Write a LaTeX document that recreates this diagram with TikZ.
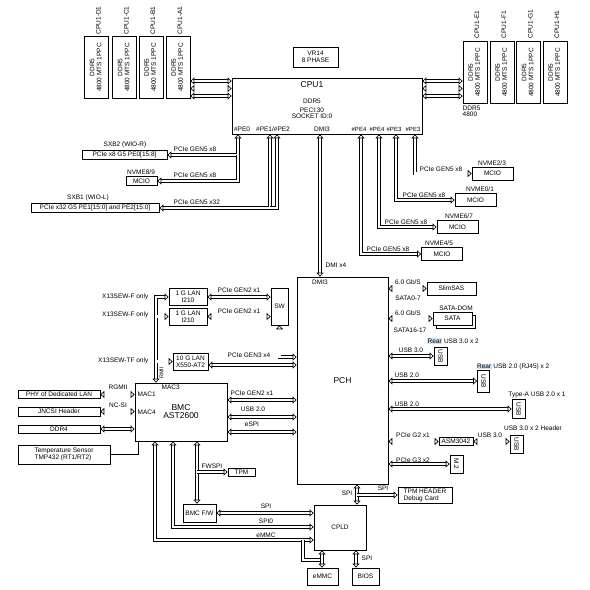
\documentclass[tikz,border=0pt]{standalone}
\usepackage{fontspec}
\usepackage{graphicx}
\setmainfont{Liberation Sans}
\usetikzlibrary{arrows.meta, positioning}
\definecolor{rearbg}{RGB}{204,228,247}
\newcommand{\vtext}[1]{\rotatebox{90}{\begin{tabular}{@{}c@{}}#1\end{tabular}}}
\newcommand{\rear}{{\setlength{\fboxsep}{0.4pt}\colorbox{rearbg}{Rear}}}

\begin{document}
\begin{tikzpicture}[x=1pt, y=-1pt,
    box/.style={rectangle, draw, line width=0.7pt, inner sep=0.5pt, align=center, font=\fontsize{6.5}{7}\selectfont},
    dimm/.style={box, minimum width=24pt, minimum height=62pt},
    mcio/.style={box, minimum width=41pt, minimum height=13pt},
    usbbox/.style={box, minimum width=13pt, minimum height=18pt},
    lbl/.style={inner sep=0.5pt, align=center, font=\fontsize{6.5}{7}\selectfont},
    small/.style={inner sep=0.5pt, font=\fontsize{6}{6.5}\selectfont},
    big/.style={inner sep=0.5pt, align=center, font=\fontsize{8.5}{8}\selectfont},
    bus/.style={draw=black, line width=0.65pt, double=white, double distance=2.3pt},
    link/.style={bus, {Triangle[open, length=4pt, width=7pt]}-{Triangle[open, length=4pt, width=7pt]}},
    linkto/.style={bus, -{Triangle[open, length=4pt, width=7pt]}},
    linkfrom/.style={bus, {Triangle[open, length=4pt, width=7pt]}-}
  ]
\useasboundingbox (0,0) rectangle (590,590);

% CPU
\node[box, minimum width=190pt, minimum height=56pt] (cpu) at (327,106) {};
\node[big] (cputitle) at (312,85) {CPU1};
\node[lbl] (cpuddr) at (312,101) {DDR5};
\node[lbl, font=\fontsize{6.5}{6}\selectfont] (cpuid) at (312,113.5) {PECI:30\\SOCKET ID:0};
\node[box, minimum width=45pt, minimum height=20pt] (vr) at (315.5,57) {VR14\\8 PHASE};
\node[lbl] (pe0) at (242,129) {\#PE0};
\node[lbl] (pe12) at (273,129) {\#PE1/\#PE2};
\node[lbl] (dmi) at (322,129) {DMI3};
\node[small] (pe4a) at (359,129) {\#PE4};
\node[small] (pe4b) at (377,129) {\#PE4};
\node[small] (pe3a) at (394,129) {\#PE3};
\node[small] (pe3b) at (413,129) {\#PE3};

% Memory
\node[dimm] (d1) at (96.5,67.5) {\vtext{DDR5\\4800 MTS 1PPC}};
\node[dimm] (c1) at (124.5,67.5) {\vtext{DDR5\\4800 MTS 1PPC}};
\node[dimm] (b1) at (151,67.5) {\vtext{DDR5\\4800 MTS 1PPC}};
\node[dimm] (a1) at (178,67.5) {\vtext{DDR5\\4800 MTS 1PPC}};
\node[lbl, rotate=90, anchor=west] (ld1) at (98.5,35) {CPU1-D1};
\node[lbl, rotate=90, anchor=west] (lc1) at (126.5,35) {CPU1-C1};
\node[lbl, rotate=90, anchor=west] (lb1) at (153,35) {CPU1-B1};
\node[lbl, rotate=90, anchor=west] (la1) at (180,35) {CPU1-A1};

\node[dimm] (e1) at (475,72.5) {\vtext{DDR5\\4800 MTS 1PPC}};
\node[dimm] (f1) at (502,72.5) {\vtext{DDR5\\4800 MTS 1PPC}};
\node[dimm] (g1) at (528.5,72.5) {\vtext{DDR5\\4800 MTS 1PPC}};
\node[dimm] (h1) at (555,72.5) {\vtext{DDR5\\4800 MTS 1PPC}};
\node[lbl, rotate=90, anchor=west] (le1) at (477,39) {CPU1-E1};
\node[lbl, rotate=90, anchor=west] (lf1) at (504,39) {CPU1-F1};
\node[lbl, rotate=90, anchor=west] (lg1) at (530.5,39) {CPU1-G1};
\node[lbl, rotate=90, anchor=west] (lh1) at (557,39) {CPU1-H1};
\node[lbl, anchor=north west, align=left, font=\fontsize{6.5}{6}\selectfont] (ddrnote) at (462,105) {DDR5\\4800};

\draw[link] (a1.east |- 0,81) -- (cpu.west |- 0,81);
\draw[link] (a1.east |- 0,88.5) -- (cpu.west |- 0,88.5);
\draw[link] (a1.east |- 0,96) -- (cpu.west |- 0,96);
\draw[link] (cpu.east |- 0,81) -- (e1.west |- 0,81);
\draw[link] (cpu.east |- 0,88.5) -- (e1.west |- 0,88.5);
\draw[link] (cpu.east |- 0,96) -- (e1.west |- 0,96);

% PCIe left
\node[lbl] (lsxb2) at (125,145) {SXB2 (WIO-R)};
\node[box, minimum width=85pt, minimum height=9pt] (sxb2) at (124.5,155) {PCIe x8 G5 PE0[15:8]};
\node[lbl] (lnv89) at (141,172) {NVME8/9};
\node[box, minimum width=31pt, minimum height=9pt] (mcio89) at (141.5,181) {MCIO};
\node[lbl] (lsxb1) at (88,198) {SXB1 (WIO-L)};
\node[box, minimum width=128pt, minimum height=9pt] (sxb1) at (95,208) {PCIe x32 G5 PE1[15:0] and PE2[15:0]};
\node[lbl, anchor=south west] (g5a) at (173,152) {PCIe GEN5 x8};
\node[lbl, anchor=south west] (g5b) at (173,178.5) {PCIe GEN5 x8};
\node[lbl, anchor=south west] (g5c) at (173,205.5) {PCIe GEN5 x32};

\coordinate (pe0port) at (cpu.south -| 238,0);
\coordinate (pe0bend) at (sxb2.east -| 238,0);
\coordinate (pe1port) at (cpu.south -| 270,0);
\coordinate (pe1bend) at (sxb1.east -| 270,0);
\coordinate (pe2port) at (cpu.south -| 277,0);
\coordinate (pe2bend) at (sxb1.east -| 277,0);
\draw[link] (pe0port) -- (pe0bend) -- (sxb2.east);
\draw[linkto] (pe0bend) -- (pe0bend |- mcio89.east) -- (mcio89.east);
\draw[link] (pe1port) -- (pe1bend) -- (sxb1.east);
\draw[linkfrom] (pe2port) -- (pe2bend) -- (pe1bend);

% PCIe right
\node[mcio] (mcio23) at (492.5,173.5) {MCIO};
\node[mcio] (mcio01) at (475.5,200) {MCIO};
\node[mcio] (mcio67) at (457.5,227) {MCIO};
\node[mcio] (mcio45) at (442,254) {MCIO};
\node[lbl] (lnv23) at (492,163) {NVME2/3};
\node[lbl] (lnv01) at (480,189.5) {NVME0/1};
\node[lbl] (lnv67) at (459,216.5) {NVME6/7};
\node[lbl] (lnv45) at (439,243.5) {NVME4/5};
\node[lbl, anchor=south west] (g5d) at (419,172) {PCIe GEN5 x8};
\node[lbl, anchor=south west] (g5e) at (402,198.5) {PCIe GEN5 x8};
\node[lbl, anchor=south west] (g5f) at (384,225.5) {PCIe GEN5 x8};
\node[lbl, anchor=south west] (g5g) at (366,252.5) {PCIe GEN5 x8};

\draw[link] (415,0 |- cpu.south) |- (mcio23.west);
\draw[link] (396,0 |- cpu.south) |- (mcio01.west);
\draw[link] (379,0 |- cpu.south) |- (mcio67.west);
\draw[link] (361,0 |- cpu.south) |- (mcio45.west);

% PCH
\node[box, minimum width=91pt, minimum height=207pt, font=\fontsize{8.5}{9}\selectfont] (pch) at (342.5,380.5) {PCH};
\node[lbl] (pchdmi) at (320,282) {DMI3};
\node[lbl, anchor=west] (ldmi) at (325,265) {DMI x4};
\draw[link] (320,0 |- cpu.south) -- (320,0 |- pch.north);

% LAN
\node[box, minimum width=38pt, minimum height=17pt] (lan1) at (188,297) {1 G LAN\\I210};
\node[box, minimum width=38pt, minimum height=17pt] (lan2) at (188,316.5) {1 G LAN\\I210};
\node[box, minimum width=35pt, minimum height=17pt] (lan10) at (190.5,361.5) {10 G LAN\\X550-AT2};
\node[box, minimum width=17pt, minimum height=37pt] (sw) at (279.5,306.5) {SW};
\node[lbl, anchor=east] (only1) at (149,297) {X13SEW-F only};
\node[lbl, anchor=east] (only2) at (149,315) {X13SEW-F only};
\node[lbl, anchor=east] (only3) at (149,361) {X13SEW-TF only};
\node[lbl] (g2a) at (239,290.5) {PCIe GEN2 x1};
\node[lbl] (g2b) at (239,311) {PCIe GEN2 x1};
\node[lbl] (g3a) at (249,355) {PCIe GEN3 x4};

\draw[link] (lan1.east) -- (lan1.east -| sw.west);
\draw[link] (lan2.east) -- (lan2.east -| sw.west);
\draw[link] (sw.south) |- (pch.west |- 0,357);
\draw[link] (lan10.east |- 0,365) -- (pch.west |- 0,365);

% BMC
\node[box, minimum width=92pt, minimum height=58pt, font=\fontsize{8.5}{8}\selectfont] (bmc) at (181,412) {BMC\\AST2600};
\node[lbl, anchor=west] (mac1) at (137,394) {MAC1};
\node[lbl, anchor=west] (mac3) at (161,387) {MAC3};
\node[lbl, anchor=west] (mac4) at (137,412) {MAC4};
\node[lbl, rotate=90, font=\fontsize{5.5}{6}\selectfont] (rmii) at (161.5,373) {RMII};

\coordinate (rmiiport) at (bmc.north -| 156,0);
\coordinate (rmiibend) at (lan1.west -| 156,0);
\draw[link] (rmiiport) -- (rmiibend) -- (lan1.west);
\draw[linkto] (rmiibend |- lan2.west) -- (lan2.west);
\draw[linkto] (rmiibend |- lan10.west) -- (lan10.west);

\node[box, minimum width=82pt, minimum height=8pt] (phy) at (59,394.5) {PHY of Dedicated LAN};
\node[box, minimum width=82pt, minimum height=9pt] (jncsi) at (59,411.5) {JNCSI Header};
\node[box, minimum width=82pt, minimum height=8pt] (ddr4) at (59,429) {DDR4};
\node[box, minimum width=92pt, minimum height=19pt, align=left] (temp) at (64,454.5) {Temperature Sensor\\TMP432 (RT1/RT2)};
\node[lbl] (rgmii) at (118,387.5) {RGMII};
\node[lbl] (ncsi) at (118,405) {NC-SI};

\draw[link] (phy.east) -- (phy.east -| bmc.west);
\draw[link] (jncsi.east) -- (jncsi.east -| bmc.west);
\draw[link] (ddr4.east) -- (ddr4.east -| bmc.west);
\draw[line width=0.7pt] (temp.east) -| (138,0 |- bmc.south);

\node[lbl] (bg2) at (252,393) {PCIe GEN2 x1};
\node[lbl] (busb) at (253,409) {USB 2.0};
\node[lbl] (bespi) at (252,424.5) {eSPI};
\draw[link] (bmc.east |- 0,400) -- (pch.west |- 0,400);
\draw[link] (bmc.east |- 0,417) -- (pch.west |- 0,417);
\draw[link] (bmc.east |- 0,432) -- (pch.west |- 0,432);

% BMC firmware, TPM, CPLD
\node[box, minimum width=27pt, minimum height=8pt] (tpm) at (241.5,472) {TPM};
\node[box, minimum width=33pt, minimum height=18pt] (bmcfw) at (199.5,513) {BMC F/W};
\node[box, minimum width=52pt, minimum height=45pt] (cpld) at (340,527.5) {CPLD};
\node[box, minimum width=31pt, minimum height=17pt] (emmc) at (322.5,576.5) {eMMC};
\node[box, minimum width=27pt, minimum height=17pt] (bios) at (365.5,576.5) {BIOS};
\node[box, minimum width=54pt, minimum height=16pt, align=left] (tpmh) at (425,495) {TPM HEADER\\Debug Card};
\node[lbl] (lfwspi) at (212,466) {FWSPI};
\node[lbl] (lspi) at (266,506) {SPI};
\node[lbl] (lspi0) at (266,521) {SPI0};
\node[lbl] (lemmc) at (266,535.5) {eMMC};
\node[lbl, anchor=east] (lspipch) at (353,493) {SPI};
\node[lbl] (lspitpm) at (383,488) {SPI};
\node[lbl, anchor=west] (lspibios) at (361,558) {SPI};

\draw[link] (197,0 |- bmc.south) -- (197,0 |- bmcfw.north);
\draw[linkto] (197,0 |- tpm.west) -- (tpm.west);
\draw[link] (bmcfw.east) -- (bmcfw.east -| cpld.west);
\draw[link] (173,0 |- bmc.south) |- (cpld.west |- 0,527);
\draw[link] (155,0 |- bmc.south) |- (cpld.west |- 0,540);
\coordinate (emmcsplit) at (303,540);
\coordinate (emmcjoin) at (320.5,560);
\draw[bus] (emmcsplit) |- (emmcjoin);
\draw[link] (322,0 |- cpld.south) -- (322,0 |- emmc.north);
\draw[link] (356,0 |- cpld.south) -- (356,0 |- bios.north);
\draw[link] (357,0 |- pch.south) -- (357,0 |- cpld.north);
\draw[linkto] (357,0 |- tpmh.west) -- (tpmh.west);

% PCH right side
\node[box, minimum width=49pt, minimum height=13pt] (slimsas) at (451.5,288.5) {SlimSAS};
\node[box, minimum width=39pt, minimum height=13pt] (satash) at (455.5,321.5) {};
\node[box, minimum width=39pt, minimum height=13pt, fill=white] (sata) at (452.5,318.5) {SATA};
\node[usbbox] (usb3r) at (440.5,356) {\rotatebox{-90}{USB}};
\node[box, minimum width=12pt, minimum height=22pt] (usb2r) at (483.5,381) {\rotatebox{-90}{USB}};
\node[usbbox, minimum height=19pt] (usb2a) at (518.5,409) {\rotatebox{-90}{USB}};
\node[box, minimum width=34pt, minimum height=8pt] (asm) at (456,441.5) {ASM3042};
\node[usbbox] (usb3h) at (516.5,444) {\rotatebox{-90}{USB}};
\node[usbbox] (m2) at (456.5,464) {\rotatebox{-90}{M.2}};

\node[lbl] (gb1) at (408,282) {6.0 Gb/S};
\node[lbl] (sata07) at (408,298) {SATA0-7};
\node[lbl] (dom) at (456,308) {SATA-DOM};
\node[lbl] (gb2) at (408,313) {6.0 Gb/S};
\node[lbl] (sata1617) at (410,330) {SATA16-17};
\node[lbl] (lrear3) at (453,341) {\rear{} USB 3.0 x 2};
\node[lbl] (lu3) at (411,350.5) {USB 3.0};
\node[lbl] (lrear2) at (513,367) {\rear{} USB 2.0 (RJ45) x 2};
\node[lbl, anchor=west] (lu2) at (394,375.5) {USB 2.0};
\node[lbl] (ltypea) at (537,395) {Type-A USB 2.0 x 1};
\node[lbl, anchor=west] (lu2a) at (394,404) {USB 2.0};
\node[lbl] (lhdr) at (533,428) {USB 3.0 x 2 Header};
\node[lbl] (lg2x1) at (413,435.5) {PCIe G2 x1};
\node[lbl] (lu3h) at (490,435.5) {USB 3.0};
\node[lbl] (lg3x2) at (413,460) {PCIe G3 x2};

\draw[link] (pch.east |- slimsas.west) -- (slimsas.west);
\draw[link] (pch.east |- sata.west) -- (sata.west);
\draw[link] (pch.east |- usb3r.west) -- (usb3r.west);
\draw[link] (pch.east |- usb2r.west) -- (usb2r.west);
\draw[link] (pch.east |- usb2a.west) -- (usb2a.west);
\draw[link] (pch.east |- asm.west) -- (asm.west);
\draw[link] (asm.east) -- (asm.east -| usb3h.west);
\draw[link] (pch.east |- m2.west) -- (m2.west);

\end{tikzpicture}
\end{document}
